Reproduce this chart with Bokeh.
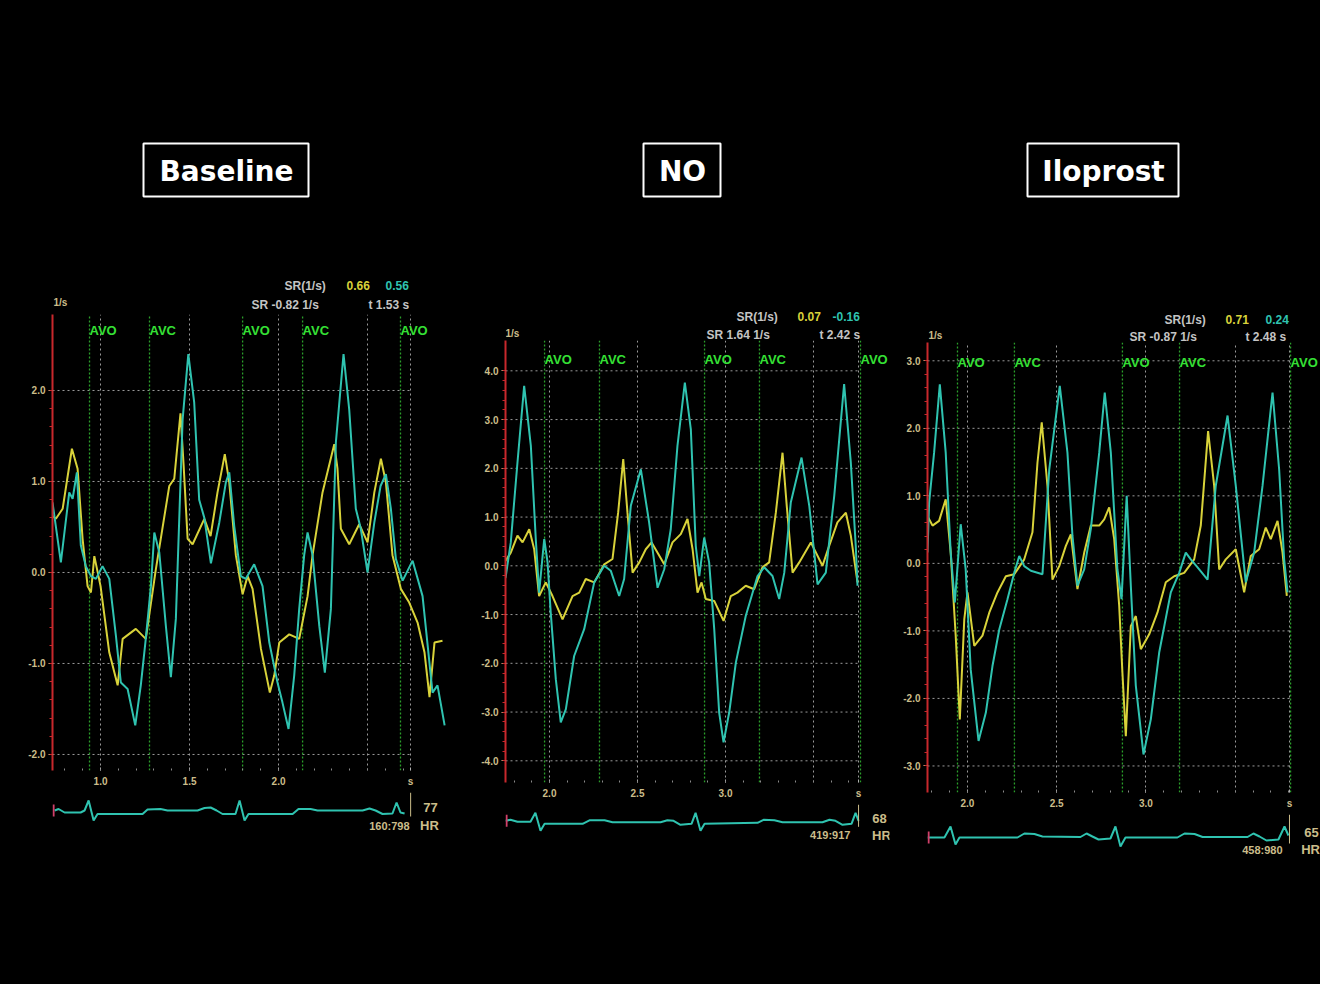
import numpy as np
from bokeh.plotting import figure
from bokeh.layouts import row, column
from bokeh.models import Range1d, FixedTicker, PrintfTickFormatter
from bokeh.core.properties import value
from bokeh.embed import file_html
from bokeh.resources import INLINE

# ------------------------------------------------------------------ data
TITLES = ["Baseline", "NO", "Iloprost"]
EVENT_LABELS = ["AVO", "AVC", "AVO", "AVC", "AVO"]

# ---- Baseline
BASE_YEL_T = [0.730, 0.749, 0.787, 0.839, 0.871, 0.899, 0.927, 0.946, 0.965, 1.000,
              1.049, 1.096, 1.124, 1.198, 1.254, 1.311, 1.386, 1.414, 1.449, 1.466,
              1.489, 1.517, 1.583, 1.618, 1.657, 1.698, 1.723, 1.760, 1.798, 1.826,
              1.854, 1.901, 1.951, 1.976, 2.004, 2.060, 2.116, 2.163, 2.191, 2.247,
              2.313, 2.331, 2.350, 2.397, 2.453, 2.500, 2.538, 2.575, 2.603, 2.640,
              2.687, 2.734, 2.781, 2.820, 2.848, 2.876, 2.921]
BASE_YEL_SR = [0.62, 0.59, 0.70, 1.36, 1.14, 0.37, -0.15, -0.22, 0.18, -0.15,
               -0.88, -1.24, -0.73, -0.62, -0.73, 0.04, 0.95, 1.03, 1.75, 1.20,
               0.37, 0.31, 0.59, 0.40, 0.88, 1.30, 0.99, 0.19, -0.24, -0.04,
               -0.18, -0.84, -1.32, -1.13, -0.77, -0.68, -0.73, -0.26, 0.19, 0.88,
               1.41, 1.14, 0.48, 0.31, 0.53, 0.33, 0.88, 1.25, 0.99, 0.19,
               -0.18, -0.33, -0.55, -0.88, -1.37, -0.77, -0.75]
BASE_CYN_T = [0.730, 0.777, 0.824, 0.843, 0.867, 0.889, 0.917, 0.946, 0.974, 1.011,
              1.049, 1.086, 1.114, 1.152, 1.195, 1.226, 1.254, 1.283, 1.302, 1.330,
              1.367, 1.395, 1.423, 1.461, 1.493, 1.526, 1.554, 1.583, 1.620, 1.667,
              1.704, 1.723, 1.751, 1.788, 1.816, 1.863, 1.910, 1.948, 1.994, 2.022,
              2.056, 2.088, 2.116, 2.144, 2.163, 2.191, 2.229, 2.260, 2.294, 2.322,
              2.365, 2.397, 2.434, 2.462, 2.500, 2.538, 2.573, 2.603, 2.631, 2.659,
              2.697, 2.753, 2.809, 2.865, 2.893, 2.933]
BASE_CYN_SR = [0.77, 0.11, 0.88, 0.81, 1.10, 0.30, 0.07, -0.04, -0.07, 0.07,
               -0.07, -0.69, -1.21, -1.28, -1.68, -1.24, -0.73, -0.15, 0.44, 0.22,
               -0.59, -1.15, -0.51, 1.68, 2.40, 1.87, 0.80, 0.60, 0.10, 0.55,
               0.99, 1.10, 0.51, -0.04, -0.07, 0.09, -0.15, -0.77, -1.21, -1.43,
               -1.72, -1.13, -0.40, 0.19, 0.44, 0.19, -0.59, -1.10, -0.40, 1.43,
               2.40, 1.79, 0.70, 0.48, 0.00, 0.55, 0.95, 1.08, 0.70, 0.15,
               -0.09, 0.13, -0.26, -1.32, -1.24, -1.68]
BASE_EVENT_T = [0.938, 1.275, 1.798, 2.135, 2.685]
BASE_ECG_T = [0.742, 0.764, 0.798, 0.888, 0.910, 0.933, 0.961, 0.983, 1.236, 1.264,
              1.337, 1.376, 1.545, 1.584, 1.618, 1.652, 1.685, 1.758, 1.781, 1.809,
              1.831, 2.079, 2.112, 2.180, 2.219, 2.472, 2.511, 2.545, 2.584, 2.640,
              2.663, 2.685, 2.708]
BASE_ECG_V = [0.0, 0.15, -0.2, -0.2, 0.0, 1.0, -1.0, -0.35, -0.35, 0.1,
              0.15, 0.0, 0.0, 0.25, 0.3, 0.0, -0.35, -0.35, 1.0, -1.0,
              -0.35, -0.35, 0.15, 0.15, 0.0, 0.0, 0.2, 0.0, -0.35, -0.3,
              0.8, -0.2, -0.3]
BASE_Y_TICKS = [-2.0, -1.0, 0.0, 1.0, 2.0]
BASE_X_TICKS = [1.0, 1.5, 2.0]
BASE_X_GRID = [1.0, 1.5, 2.0, 2.5]
BASE_S_T = 2.742
BASE_READ = ["SR(1/s)", "0.66", "0.56", "SR -0.82 1/s", "t 1.53 s"]
BASE_HR = ["77", "HR", "160:798"]

# ---- NO
NO_YEL_T = [1.750, 1.780, 1.818, 1.847, 1.885, 1.913, 1.941, 1.979, 2.017, 2.074,
            2.131, 2.169, 2.206, 2.254, 2.311, 2.358, 2.390, 2.419, 2.443, 2.472,
            2.510, 2.547, 2.580, 2.614, 2.652, 2.699, 2.746, 2.784, 2.813, 2.841,
            2.864, 2.888, 2.936, 2.989, 3.030, 3.068, 3.115, 3.163, 3.210, 3.248,
            3.286, 3.324, 3.348, 3.381, 3.419, 3.485, 3.551, 3.589, 3.636, 3.684,
            3.712, 3.750]
NO_YEL_SR = [0.10, 0.27, 0.62, 0.48, 0.75, 0.34, -0.62, -0.34, -0.62, -1.10,
             -0.62, -0.55, -0.27, -0.34, 0.03, 0.14, 1.09, 2.19, 1.09, -0.14,
             0.07, 0.34, 0.48, 0.27, 0.03, 0.48, 0.65, 0.96, 0.34, -0.55,
             -0.34, -0.68, -0.72, -1.13, -0.62, -0.55, -0.41, -0.48, -0.03, 0.07,
             1.09, 2.32, 1.23, -0.14, 0.07, 0.48, 0.00, 0.41, 0.89, 1.09,
             0.62, -0.34]
NO_CYN_T = [1.750, 1.780, 1.818, 1.856, 1.894, 1.922, 1.941, 1.970, 1.989, 2.007,
            2.036, 2.064, 2.093, 2.140, 2.197, 2.254, 2.311, 2.348, 2.396, 2.424,
            2.462, 2.519, 2.566, 2.614, 2.652, 2.689, 2.727, 2.769, 2.803, 2.831,
            2.851, 2.879, 2.907, 2.936, 2.964, 2.989, 3.021, 3.059, 3.115, 3.182,
            3.220, 3.267, 3.305, 3.334, 3.371, 3.432, 3.476, 3.523, 3.570, 3.618,
            3.674, 3.712, 3.740, 3.750]
NO_CYN_SR = [-0.25, 0.48, 2.12, 3.69, 2.46, 0.55, -0.55, 0.55, 0.07, -0.96,
             -2.33, -3.21, -2.94, -1.85, -1.30, -0.34, 0.00, -0.10, -0.62, -0.27,
             1.23, 1.98, 0.89, -0.45, -0.07, 0.75, 2.46, 3.76, 2.80, 0.41,
             -0.21, 0.58, 0.07, -1.30, -3.01, -3.62, -3.01, -1.98, -1.03, -0.21,
             -0.03, -0.21, -0.68, -0.14, 1.30, 2.22, 1.23, -0.38, -0.14, 1.44,
             3.73, 2.12, 0.41, -0.41]
NO_EVENT_T = [1.972, 2.284, 2.881, 3.193, 3.767]
NO_ECG_T = [1.750, 1.778, 1.818, 1.892, 1.920, 1.949, 1.972, 2.188, 2.227, 2.313,
            2.358, 2.631, 2.670, 2.705, 2.744, 2.807, 2.830, 2.858, 2.881, 3.182,
            3.216, 3.278, 3.324, 3.551, 3.591, 3.625, 3.665, 3.716, 3.739, 3.756]
NO_ECG_V = [0.0, 0.1, -0.1, -0.1, 0.8, -1.0, -0.3, -0.3, 0.05, 0.05,
            -0.15, -0.15, 0.05, 0.0, -0.4, -0.3, 0.8, -1.0, -0.3, -0.2,
            0.1, 0.05, -0.15, -0.15, 0.1, 0.0, -0.4, -0.3, 0.8, 0.0]
NO_Y_TICKS = [-4.0, -3.0, -2.0, -1.0, 0.0, 1.0, 2.0, 3.0, 4.0]
NO_X_TICKS = [2.0, 2.5, 3.0]
NO_X_GRID = [2.0, 2.5, 3.0, 3.5]
NO_S_T = 3.756
NO_READ = ["SR(1/s)", "0.07", "-0.16", "SR 1.64 1/s", "t 2.42 s"]
NO_HR = ["68", "HR", "419:917"]

# ---- Iloprost
ILO_YEL_T = [1.776, 1.804, 1.841, 1.878, 1.906, 1.934, 1.957, 1.982, 2.000, 2.038,
             2.084, 2.122, 2.168, 2.215, 2.262, 2.318, 2.364, 2.392, 2.416, 2.448,
             2.476, 2.514, 2.551, 2.579, 2.616, 2.654, 2.691, 2.738, 2.766, 2.794,
             2.822, 2.850, 2.868, 2.887, 2.915, 2.943, 2.971, 3.018, 3.064, 3.111,
             3.158, 3.214, 3.270, 3.307, 3.348, 3.382, 3.410, 3.447, 3.503, 3.550,
             3.587, 3.634, 3.671, 3.699, 3.737, 3.765, 3.789]
ILO_YEL_SR = [0.70, 0.56, 0.63, 0.95, 0.16, -1.07, -2.31, -0.83, -0.43, -1.22,
              -1.07, -0.73, -0.43, -0.19, -0.16, 0.06, 0.46, 1.49, 2.09, 1.15,
              -0.24, -0.04, 0.26, 0.43, -0.38, 0.16, 0.56, 0.56, 0.65, 0.83,
              0.36, -0.63, -1.62, -2.56, -0.93, -0.78, -1.27, -1.05, -0.73, -0.28,
              -0.19, -0.14, 0.06, 0.56, 1.96, 1.15, -0.09, 0.06, 0.21, -0.43,
              0.11, 0.21, 0.53, 0.36, 0.63, 0.16, -0.48]
ILO_CYN_T = [1.776, 1.785, 1.813, 1.845, 1.878, 1.906, 1.929, 1.962, 1.990, 2.018,
             2.062, 2.103, 2.140, 2.178, 2.224, 2.262, 2.290, 2.318, 2.355, 2.420,
             2.458, 2.517, 2.560, 2.588, 2.616, 2.654, 2.691, 2.738, 2.769, 2.803,
             2.840, 2.863, 2.892, 2.915, 2.943, 2.986, 3.027, 3.074, 3.139, 3.186,
             3.223, 3.251, 3.289, 3.345, 3.391, 3.457, 3.503, 3.559, 3.606, 3.653,
             3.709, 3.746, 3.774, 3.793]
ILO_CYN_SR = [0.16, 0.90, 1.64, 2.65, 1.64, 0.16, -0.58, 0.58, -0.09, -1.57,
              -2.63, -2.21, -1.52, -0.98, -0.53, -0.14, 0.11, -0.04, -0.11, -0.16,
              1.39, 2.63, 1.64, 0.41, -0.33, -0.09, 0.51, 1.64, 2.53, 1.64,
              -0.09, -0.53, 1.00, -0.33, -1.81, -2.83, -2.31, -1.32, -0.43, -0.14,
              0.16, 0.06, -0.06, -0.24, 1.15, 2.19, 1.15, -0.28, 0.16, 1.15,
              2.53, 1.39, 0.06, -0.43]
ILO_EVENT_T = [1.944, 2.263, 2.868, 3.188, 3.810]
ILO_ECG_T = [1.776, 1.871, 1.905, 1.933, 1.955, 2.280, 2.319, 2.375, 2.420, 2.633,
             2.667, 2.700, 2.734, 2.801, 2.829, 2.857, 2.885, 3.176, 3.216, 3.272,
             3.317, 3.569, 3.602, 3.636, 3.675, 3.742, 3.776, 3.798]
ILO_ECG_V = [0.0, 0.0, 1.1, -0.7, 0.0, 0.0, 0.4, 0.35, 0.1, 0.05,
             0.4, 0.1, -0.2, -0.1, 1.1, -0.9, 0.0, 0.0, 0.4, 0.35,
             0.05, 0.05, 0.4, 0.1, -0.3, -0.2, 1.1, 0.2]
ILO_Y_TICKS = [-3.0, -2.0, -1.0, 0.0, 1.0, 2.0, 3.0]
ILO_X_TICKS = [2.0, 2.5, 3.0]
ILO_X_GRID = [2.0, 2.5, 3.0, 3.5]
ILO_S_T = 3.804
ILO_READ = ["SR(1/s)", "0.71", "0.24", "SR -0.87 1/s", "t 2.48 s"]
ILO_HR = ["65", "HR", "458:980"]

# ------------------------------------------------------------------ style
BG = "black"
YEL = "#d8d23a"
CYN = "#2fc3b0"
TAN = "#cbbd8a"
GRAY_TXT = "#c4c4c4"
GRID = "#9a9a9a"
GREEN_LINE = "#2a9e2a"
GREEN_TXT = "#35e035"
RED = "#c8282c"
FONT = value("Liberation Sans")
BLACK_STYLE = {"background-color": "black"}

# layout of each column (pixels, time/SR units for the ranges)
LAYOUTS = [
    dict(col_w=470, top_h=314, frame_h=456, bot_b=22, ecg_h=192, left_b=52, frame_w=395,
         x0=0.730, px_per_s=178.0, y_lo=-2.176, y_hi=2.835, ecg_top=1.8, label_y=2.66,
         box=(225.5, 169.5, 165, 53), title_xy=(226, 171),
         read_xy=[(284, 285), (346, 285), (385, 285), (251, 304), (368, 304)], unit_xy=(53, 302),
         hr_xy=[(2.854, 0.3), (2.848, -1.5), (2.736, -1.5)]),
    dict(col_w=420, top_h=340, frame_h=442, bot_b=22, ecg_h=180, left_b=35, frame_w=384,
         x0=1.750, px_per_s=176.0, y_lo=-4.445, y_hi=4.622, ecg_top=1.63, label_y=4.23,
         box=(211.5, 169.5, 77, 53), title_xy=(212, 171),
         read_xy=[(266, 316), (327, 316), (362, 316), (236, 334), (349, 334)], unit_xy=(35, 333),
         hr_xy=[(3.875, 0.23), (3.886, -1.47), (3.710, -1.4)]),
    dict(col_w=430, top_h=342, frame_h=450, bot_b=22, ecg_h=170, left_b=37, frame_w=393,
         x0=1.776, px_per_s=178.5, y_lo=-3.393, y_hi=3.271, ecg_top=2.3, label_y=2.975,
         box=(212.5, 169.5, 151, 53), title_xy=(213, 171),
         read_xy=[(274, 319), (335, 319), (375, 319), (239, 336), (355, 336)], unit_xy=(38, 335),
         hr_xy=[(3.927, 0.5), (3.922, -1.2), (3.765, -1.2)]),
]

PANELS = [
    dict(yel_t=BASE_YEL_T, yel_sr=BASE_YEL_SR, cyn_t=BASE_CYN_T, cyn_sr=BASE_CYN_SR,
         ev_t=BASE_EVENT_T, ecg_t=BASE_ECG_T, ecg_v=BASE_ECG_V, yticks=BASE_Y_TICKS,
         xticks=BASE_X_TICKS, xgrid=BASE_X_GRID, s_t=BASE_S_T, read=BASE_READ, hr=BASE_HR),
    dict(yel_t=NO_YEL_T, yel_sr=NO_YEL_SR, cyn_t=NO_CYN_T, cyn_sr=NO_CYN_SR,
         ev_t=NO_EVENT_T, ecg_t=NO_ECG_T, ecg_v=NO_ECG_V, yticks=NO_Y_TICKS,
         xticks=NO_X_TICKS, xgrid=NO_X_GRID, s_t=NO_S_T, read=NO_READ, hr=NO_HR),
    dict(yel_t=ILO_YEL_T, yel_sr=ILO_YEL_SR, cyn_t=ILO_CYN_T, cyn_sr=ILO_CYN_SR,
         ev_t=ILO_EVENT_T, ecg_t=ILO_ECG_T, ecg_v=ILO_ECG_V, yticks=ILO_Y_TICKS,
         xticks=ILO_X_TICKS, xgrid=ILO_X_GRID, s_t=ILO_S_T, read=ILO_READ, hr=ILO_HR),
]


def bare(width, height, x_range, y_range, **kw):
    p = figure(width=width, height=height, x_range=x_range, y_range=y_range,
               output_backend="svg", toolbar_location=None, title=None,
               x_axis_location=None, y_axis_location=None,
               background_fill_color=BG, border_fill_color=BG,
               outline_line_color=None, min_border=0, styles=BLACK_STYLE, **kw)
    p.grid.visible = False
    return p


def build(title, d, L):
    W = L["col_w"]
    lb = L["left_b"]
    right_b = W - lb - L["frame_w"]
    x1 = L["x0"] + L["frame_w"] / L["px_per_s"]
    xr = Range1d(L["x0"], x1)

    # ---------------- top: title box + SR readouts (column pixel coordinates)
    top = bare(W, L["top_h"], Range1d(lb, W - right_b), Range1d(L["top_h"], 0),
               min_border_left=lb, min_border_right=right_b)
    bx, by, bw, bh = L["box"]
    top.rect(x=[bx], y=[by], width=[bw], height=[bh], fill_color=None,
             line_color="white", line_width=2)
    top.text(x=[L["title_xy"][0]], y=[L["title_xy"][1]], text=[title],
             text_font=value("DejaVu Sans"), text_font_style="bold",
             text_font_size="28px", text_color="white",
             text_align="center", text_baseline="middle")
    colors = [GRAY_TXT, YEL, CYN, GRAY_TXT, GRAY_TXT]
    rx = [p[0] for p in L["read_xy"]]
    ry = [p[1] for p in L["read_xy"]]
    top.text(x=rx, y=ry, text=d["read"], text_color=colors, text_font=FONT,
             text_font_style="bold", text_font_size="12px",
             text_align="left", text_baseline="middle")
    top.text(x=[L["unit_xy"][0]], y=[L["unit_xy"][1]], text=["1/s"], text_color=TAN,
             text_font=FONT, text_font_style="bold", text_font_size="10px",
             text_align="left", text_baseline="middle")

    # ---------------- main strain-rate plot
    main = figure(width=W, height=L["frame_h"] + L["bot_b"], x_range=xr,
                  y_range=Range1d(L["y_lo"], L["y_hi"]),
                  output_backend="svg", toolbar_location=None, title=None,
                  background_fill_color=BG, border_fill_color=BG, outline_line_color=None,
                  min_border_left=lb, min_border_right=right_b,
                  min_border_top=0, min_border_bottom=L["bot_b"], styles=BLACK_STYLE)
    yt = d["yticks"]
    yax = main.yaxis[0]
    yax.ticker = FixedTicker(ticks=yt,
                             minor_ticks=list(np.round(np.arange(yt[0], yt[-1] + 0.01, 0.2), 2)))
    yax.formatter = PrintfTickFormatter(format="%.1f")
    yax.axis_line_color = RED
    yax.axis_line_width = 2
    yax.major_tick_line_color = TAN
    yax.major_tick_out = 4
    yax.major_tick_in = 0
    yax.minor_tick_line_color = RED
    yax.minor_tick_out = 3
    yax.minor_tick_in = 0
    yax.major_label_standoff = 3
    yax.major_label_text_color = TAN
    yax.major_label_text_font = "Liberation Sans"
    yax.major_label_text_font_style = "bold"
    yax.major_label_text_font_size = "10px"

    xax = main.xaxis[0]
    minor_x = list(np.round(np.arange(np.ceil(L["x0"] * 10) / 10, d["s_t"], 0.1), 2))
    xax.ticker = FixedTicker(ticks=d["xticks"] + [d["s_t"]], minor_ticks=minor_x)
    xax.formatter = PrintfTickFormatter(format="%.1f")
    xax.major_label_overrides = {d["s_t"]: "s"}
    xax.axis_line_color = None
    xax.major_tick_line_color = "#b0b0b0"
    xax.major_tick_in = 3
    xax.major_tick_out = 0
    xax.minor_tick_line_color = "#8a8a8a"
    xax.minor_tick_in = 2
    xax.minor_tick_out = 0
    xax.major_label_standoff = 5
    xax.major_label_text_color = TAN
    xax.major_label_text_font = "Liberation Sans"
    xax.major_label_text_font_style = "bold"
    xax.major_label_text_font_size = "10px"

    main.ygrid.visible = False
    main.xgrid.ticker = FixedTicker(ticks=d["xgrid"] + [d["s_t"]])
    main.xgrid.grid_line_color = GRID
    main.xgrid.grid_line_dash = "2 3"
    main.xgrid.grid_line_width = 1

    # horizontal dotted grid lines from axis to end marker
    n = len(yt)
    main.segment(x0=[L["x0"]] * n, x1=[d["s_t"]] * n, y0=yt, y1=yt,
                 line_color=GRID, line_dash="2 3", line_width=1)
    # valve events
    ne = len(d["ev_t"])
    main.segment(x0=d["ev_t"], x1=d["ev_t"], y0=[L["y_lo"]] * ne, y1=[L["y_hi"]] * ne,
                 line_color=GREEN_LINE, line_dash="2 2", line_width=1.3)
    main.text(x=d["ev_t"], y=[L["label_y"]] * ne, text=EVENT_LABELS, text_color=GREEN_TXT,
              text_font=FONT, text_font_style="bold", text_font_size="13px",
              text_align="left", text_baseline="middle")
    # traces
    main.line(d["yel_t"], d["yel_sr"], line_color=YEL, line_width=2)
    main.line(d["cyn_t"], d["cyn_sr"], line_color=CYN, line_width=2)

    # ---------------- ECG strip
    ecg = bare(W, L["ecg_h"], xr, Range1d(L["ecg_top"] - L["ecg_h"] / 10.0, L["ecg_top"]),
               min_border_left=lb, min_border_right=right_b)
    ecg.line(d["ecg_t"], d["ecg_v"], line_color=CYN, line_width=2)
    ecg.segment(x0=[L["x0"] + 0.006], x1=[L["x0"] + 0.006], y0=[-0.6], y1=[0.6],
                line_color="#d0406a", line_width=2)
    ecg.segment(x0=[d["s_t"]], x1=[d["s_t"]], y0=[L["ecg_top"]], y1=[-0.6],
                line_color=TAN, line_width=1)
    hx = [p[0] for p in L["hr_xy"]]
    hy = [p[1] for p in L["hr_xy"]]
    ecg.text(x=hx[:2], y=hy[:2], text=d["hr"][:2], text_color=TAN, text_font=FONT,
             text_font_style="bold", text_font_size="13px",
             text_align="center", text_baseline="middle")
    ecg.text(x=hx[2:], y=hy[2:], text=d["hr"][2:], text_color=TAN, text_font=FONT,
             text_font_style="bold", text_font_size="11px",
             text_align="right", text_baseline="middle")

    return column(top, main, ecg, styles=BLACK_STYLE)


cols = [build(TITLES[i], PANELS[i], LAYOUTS[i]) for i in range(3)]
layout = row(*cols, styles=BLACK_STYLE)

open("out.html", "w").write(file_html(layout, INLINE))
